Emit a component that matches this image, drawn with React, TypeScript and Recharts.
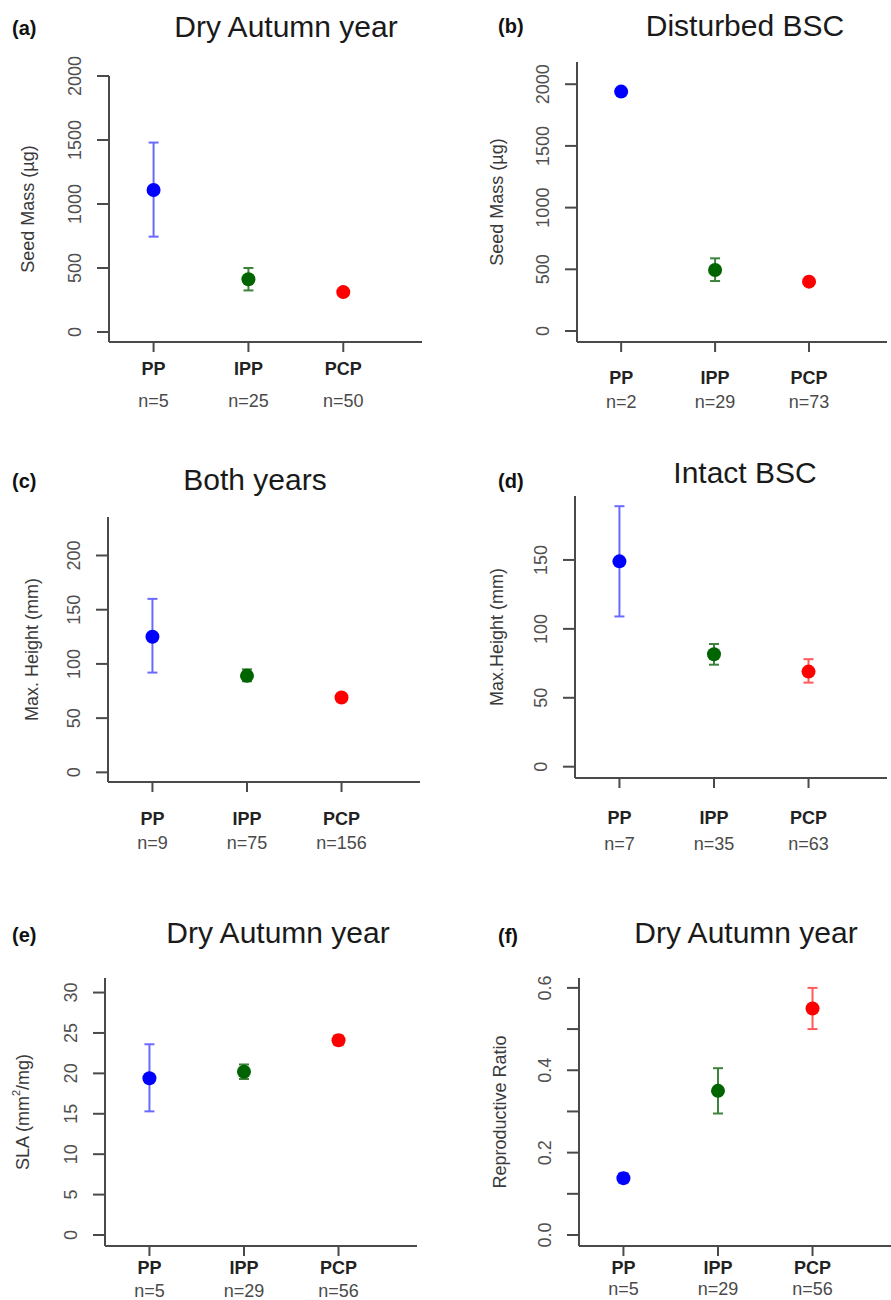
import React from 'react';
import { ScatterChart, Scatter, XAxis, YAxis, ErrorBar } from 'recharts';

// ---------- data ----------
const groups = ['PP', 'IPP', 'PCP'];
const groupX = [1, 2, 3];
const pointColors = ['#0000ff', '#006400', '#ff0000'];
const barColors = ['#6a6aff', '#3d823d', '#ff5a5a'];

// (a) Seed mass, dry autumn year
const aN = ['n=5', 'n=25', 'n=50'];
const aMean = [1110, 412, 312];
const aLow = [745, 325, 295];
const aHigh = [1480, 500, 330];
const aTicks = [0, 500, 1000, 1500, 2000];
const aTickLabels = ['0', '500', '1000', '1500', '2000'];

// (b) Seed mass, disturbed BSC
const bN = ['n=2', 'n=29', 'n=73'];
const bMean = [1940, 494, 400];
const bLow = [1940, 405, 378];
const bHigh = [1940, 589, 422];
const bTicks = [0, 500, 1000, 1500, 2000];
const bTickLabels = ['0', '500', '1000', '1500', '2000'];

// (c) Max height, both years
const cN = ['n=9', 'n=75', 'n=156'];
const cMean = [125, 89, 69];
const cLow = [92, 84, 66];
const cHigh = [160, 95, 72];
const cTicks = [0, 50, 100, 150, 200];
const cTickLabels = ['0', '50', '100', '150', '200'];

// (d) Max height, intact BSC
const dN = ['n=7', 'n=35', 'n=63'];
const dMean = [149, 81.6, 69];
const dLow = [109, 74, 61];
const dHigh = [189, 89, 78];
const dTicks = [0, 50, 100, 150];
const dTickLabels = ['0', '50', '100', '150'];

// (e) SLA, dry autumn year
const eN = ['n=5', 'n=29', 'n=56'];
const eMean = [19.4, 20.2, 24.1];
const eLow = [15.3, 19.3, 23.5];
const eHigh = [23.6, 21.1, 24.7];
const eTicks = [0, 5, 10, 15, 20, 25, 30];
const eTickLabels = ['0', '5', '10', '15', '20', '25', '30'];

// (f) Reproductive ratio, dry autumn year
const fN = ['n=5', 'n=29', 'n=56'];
const fMean = [0.138, 0.35, 0.55];
const fLow = [0.126, 0.295, 0.5];
const fHigh = [0.15, 0.405, 0.6];
const fTicks = [0, 0.1, 0.2, 0.3, 0.4, 0.5, 0.6];
const fTickLabels = ['0.0', '', '0.2', '', '0.4', '', '0.6'];

// ---------- layout / style ----------
const FONT = "'Liberation Sans', Arial, Helvetica, sans-serif";
const YW = 100;
const XH = 85;
const MT = 30;
const MR = 12;
const X_DOMAIN: [number, number] = [0.53, 3.83];

interface Layout {
  axisX: number; top: number; right: number; bottom: number;
  yDomain: [number, number];
  yLabelX: number;
  titleX: number; titleY: number;
  letterX: number; letterY: number;
  ppOff: number; nOff: number;
}

interface Panel {
  letter: string; title: string; yLabel: React.ReactNode;
  n: string[]; mean: number[]; low: number[]; high: number[];
  ticks: number[]; tickLabels: string[];
  layout: Layout;
}

const panels: Panel[] = [
  {
    letter: '(a)', title: 'Dry Autumn year', yLabel: 'Seed Mass (µg)',
    n: aN, mean: aMean, low: aLow, high: aHigh, ticks: aTicks, tickLabels: aTickLabels,
    layout: { axisX: 109, top: 76, right: 422, bottom: 342, yDomain: [-78, 2000], yLabelX: 28,
      titleX: 286, titleY: 37, letterX: 12, letterY: 35, ppOff: 33, nOff: 65 },
  },
  {
    letter: '(b)', title: 'Disturbed BSC', yLabel: 'Seed Mass (µg)',
    n: bN, mean: bMean, low: bLow, high: bHigh, ticks: bTicks, tickLabels: bTickLabels,
    layout: { axisX: 577, top: 62, right: 887, bottom: 342, yDomain: [-89, 2180], yLabelX: 497,
      titleX: 745, titleY: 36, letterX: 498, letterY: 33, ppOff: 42, nOff: 66 },
  },
  {
    letter: '(c)', title: 'Both years', yLabel: 'Max. Height (mm)',
    n: cN, mean: cMean, low: cLow, high: cHigh, ticks: cTicks, tickLabels: cTickLabels,
    layout: { axisX: 108, top: 517, right: 420, bottom: 782, yDomain: [-8.9, 235.5], yLabelX: 32,
      titleX: 255, titleY: 490, letterX: 12, letterY: 488, ppOff: 43, nOff: 67 },
  },
  {
    letter: '(d)', title: 'Intact BSC', yLabel: 'Max.Height (mm)',
    n: dN, mean: dMean, low: dLow, high: dHigh, ticks: dTicks, tickLabels: dTickLabels,
    layout: { axisX: 575, top: 496, right: 887, bottom: 778, yDomain: [-8.2, 196.4], yLabelX: 497,
      titleX: 745, titleY: 483, letterX: 498, letterY: 488, ppOff: 46, nOff: 72 },
  },
  {
    letter: '(e)', title: 'Dry Autumn year',
    yLabel: (
      <>
        SLA (mm<tspan fontSize={11} dy={-7}>2</tspan><tspan dy={7}>/mg)</tspan>
      </>
    ),
    n: eN, mean: eMean, low: eLow, high: eHigh, ticks: eTicks, tickLabels: eTickLabels,
    layout: { axisX: 105, top: 978, right: 417, bottom: 1246, yDomain: [-1.36, 31.8], yLabelX: 23,
      titleX: 278, titleY: 943, letterX: 12, letterY: 942, ppOff: 28, nOff: 51 },
  },
  {
    letter: '(f)', title: 'Dry Autumn year', yLabel: 'Reproductive Ratio',
    n: fN, mean: fMean, low: fLow, high: fHigh, ticks: fTicks, tickLabels: fTickLabels,
    layout: { axisX: 579, top: 978, right: 891, bottom: 1246, yDomain: [-0.0267, 0.624], yLabelX: 500,
      titleX: 746, titleY: 943, letterX: 498, letterY: 943, ppOff: 28, nOff: 49 },
  },
];

const AXIS_COLOR = '#4a4a4a';

function PanelChart({ p }: { p: Panel }) {
  const L = p.layout;
  const width = L.right - L.axisX + YW + MR;
  const height = L.bottom - L.top + XH + MT;

  const yTick = (props: any) => {
    const { x, y, payload } = props;
    const idx = p.ticks.findIndex((t) => Math.abs(t - payload.value) < 1e-9);
    const label = idx >= 0 ? p.tickLabels[idx] : '';
    if (!label) return <g />;
    const cx = x - 22;
    return (
      <text
        x={cx}
        y={y}
        transform={`rotate(-90 ${cx} ${y})`}
        textAnchor="middle"
        dominantBaseline="central"
        fontSize={18}
        fill="#505050"
        fontFamily={FONT}
      >
        {label}
      </text>
    );
  };

  const xTick = (props: any) => {
    const { x, y, payload } = props;
    const i = groupX.indexOf(payload.value);
    if (i < 0) return <g />;
    const axisY = y - 10;
    return (
      <g>
        <text x={x} y={axisY + L.ppOff} textAnchor="middle" fontSize={18} fontWeight="bold" fill="#222" fontFamily={FONT}>
          {groups[i]}
        </text>
        <text x={x} y={axisY + L.nOff} textAnchor="middle" fontSize={18} fill="#4a4a4a" fontFamily={FONT}>
          {p.n[i]}
        </text>
      </g>
    );
  };

  return (
    <div style={{ position: 'absolute', left: L.axisX - YW, top: L.top - MT, width, height }}>
      <ScatterChart width={width} height={height} margin={{ top: MT, right: MR, bottom: 0, left: 0 }}>
        <XAxis
          type="number"
          dataKey="x"
          domain={X_DOMAIN}
          ticks={groupX}
          interval={0}
          allowDataOverflow
          height={XH}
          tickSize={10}
          tickMargin={0}
          axisLine={{ stroke: AXIS_COLOR, strokeWidth: 2 }}
          tickLine={{ stroke: AXIS_COLOR, strokeWidth: 2 }}
          tick={xTick}
        />
        <YAxis
          type="number"
          dataKey="y"
          domain={L.yDomain}
          ticks={p.ticks}
          interval={0}
          allowDataOverflow
          width={YW}
          tickSize={12}
          tickMargin={0}
          axisLine={{ stroke: AXIS_COLOR, strokeWidth: 2 }}
          tickLine={{ stroke: AXIS_COLOR, strokeWidth: 2 }}
          tick={yTick}
        />
        {groups.map((g, i) => (
          <Scatter
            key={g}
            name={g}
            data={[{ x: groupX[i], y: p.mean[i], err: [p.mean[i] - p.low[i], p.high[i] - p.mean[i]] }]}
            isAnimationActive={false}
            shape={(s: any) => <circle cx={s.cx} cy={s.cy} r={7} fill={pointColors[i]} />}
          >
            <ErrorBar dataKey="err" direction="y" width={5} stroke={barColors[i]} strokeWidth={2} isAnimationActive={false} />
          </Scatter>
        ))}
      </ScatterChart>
    </div>
  );
}

function PanelText({ p }: { p: Panel }) {
  const L = p.layout;
  const cy = (L.top + L.bottom) / 2;
  return (
    <g fontFamily={FONT}>
      <text x={L.letterX} y={L.letterY} fontSize={20} fontWeight="bold" fill="#111">{p.letter}</text>
      <text x={L.titleX} y={L.titleY} fontSize={30} textAnchor="middle" fill="#1a1a1a">{p.title}</text>
      <text
        x={L.yLabelX}
        y={cy}
        transform={`rotate(-90 ${L.yLabelX} ${cy})`}
        textAnchor="middle"
        dominantBaseline="central"
        fontSize={18}
        fill="#3a3a3a"
      >
        {p.yLabel}
      </text>
    </g>
  );
}

export default function App() {
  return (
    <div style={{ position: 'absolute', left: 0, top: 0, width: 891, height: 1300, background: '#ffffff', overflow: 'hidden' }}>
      {panels.map((p) => (
        <PanelChart key={p.letter} p={p} />
      ))}
      <svg width={891} height={1300} style={{ position: 'absolute', left: 0, top: 0, pointerEvents: 'none' }}>
        {panels.map((p) => (
          <PanelText key={p.letter} p={p} />
        ))}
      </svg>
    </div>
  );
}
